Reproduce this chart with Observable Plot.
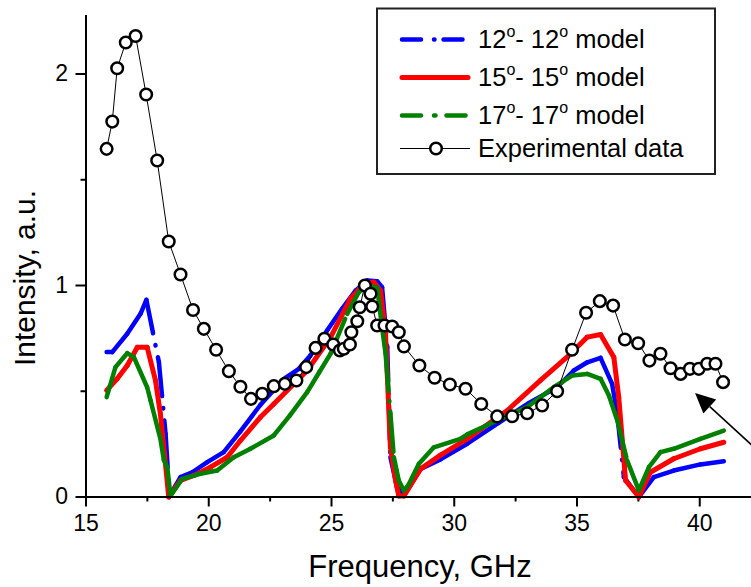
<!DOCTYPE html>
<html><head><meta charset="utf-8">
<script src="https://cdn.jsdelivr.net/npm/d3@7"></script>
<script src="https://cdn.jsdelivr.net/npm/@observablehq/plot@0.6"></script>
<style>
body{margin:0;background:#fff}
#chart{position:relative;width:751px;height:587px;overflow:hidden}
</style>
</head><body><div id="chart"></div>
<script>
// ---- data ----
const xMajorTicks = [15, 20, 25, 30, 35, 40];
const xMinorTicks = [17.5, 22.5, 27.5, 32.5, 37.5];
const yMajorTicks = [0, 1, 2];
const yMinorTicks = [0.5, 1.5];

const expFreq = [15.84,16.07,16.27,16.62,17.02,17.45,17.9,18.37,18.85,19.36,19.8,20.3,20.82,21.29,21.72,22.18,22.65,23.1,23.57,23.97,24.35,24.71,25.07,25.34,25.5,25.75,25.81,26.05,26.15,26.36,26.59,26.66,26.86,27.16,27.47,27.74,27.95,28.58,29.2,29.82,30.46,31.1,31.75,32.36,32.97,33.58,34.19,34.8,35.37,35.93,36.47,36.95,37.49,37.95,38.4,38.81,39.22,39.6,39.96,40.3,40.64,40.95];
const expInt = [1.646,1.775,2.027,2.149,2.18,1.903,1.591,1.208,1.052,0.884,0.795,0.696,0.595,0.521,0.464,0.488,0.524,0.535,0.551,0.614,0.705,0.748,0.721,0.693,0.701,0.721,0.779,0.831,0.897,1.0,0.961,0.901,0.811,0.811,0.806,0.779,0.712,0.622,0.564,0.532,0.512,0.44,0.381,0.382,0.396,0.433,0.5,0.696,0.871,0.926,0.905,0.745,0.727,0.645,0.677,0.609,0.582,0.606,0.606,0.63,0.63,0.543];

const m12Freq = [15.84,16.07,16.68,17.22,17.46,17.97,18.24,18.4,18.85,19.33,19.94,20.61,21.29,22.1,23.06,23.67,24.14,24.82,25.43,25.98,26.45,26.86,27.06,27.27,27.4,27.67,27.95,28.63,29.44,30.53,31.75,32.97,34.19,34.87,35.42,35.96,36.43,36.64,36.91,37.52,38.13,38.94,40.03,40.98];
const m12Int = [0.685,0.685,0.772,0.866,0.932,0.637,0.299,0.005,0.094,0.117,0.165,0.212,0.31,0.435,0.559,0.606,0.669,0.787,0.89,0.976,1.024,1.02,0.992,0.708,0.188,0.046,0.007,0.133,0.178,0.252,0.346,0.44,0.519,0.598,0.637,0.658,0.535,0.393,0.094,0.0,0.094,0.125,0.154,0.169];

const m15Freq = [15.84,16.27,16.68,17.09,17.49,17.83,18.03,18.2,18.37,18.85,19.39,20.07,20.75,21.29,22.1,22.65,24.01,24.96,25.77,26.32,26.72,27.0,27.2,27.4,27.61,27.74,27.95,28.63,29.44,30.53,32.16,33.51,34.74,35.42,35.96,36.5,36.7,36.98,37.52,37.99,38.94,40.03,40.98];
const m15Int = [0.504,0.559,0.622,0.708,0.708,0.551,0.393,0.2,0.0,0.078,0.102,0.141,0.188,0.267,0.377,0.44,0.598,0.755,0.937,1.008,1.016,0.976,0.772,0.235,0.078,0.005,0.005,0.133,0.198,0.275,0.409,0.551,0.677,0.756,0.768,0.661,0.472,0.078,0.0,0.117,0.181,0.228,0.259];

const m17Freq = [15.84,16.2,16.68,16.95,17.49,17.63,18.03,18.17,18.31,18.44,18.51,18.92,19.66,20.34,21.02,21.7,22.65,23.3,24.01,24.5,24.96,25.64,26.11,26.45,26.86,27.06,27.2,27.4,27.54,27.74,27.95,28.15,28.56,29.17,30.25,30.53,31.75,32.97,34.05,34.8,35.42,35.96,36.3,36.64,37.04,37.52,37.93,38.4,38.94,40.03,40.98];
const m17Int = [0.472,0.614,0.68,0.661,0.519,0.456,0.275,0.175,0.141,0.007,0.017,0.086,0.11,0.125,0.188,0.228,0.291,0.385,0.496,0.59,0.677,0.866,0.968,1.0,0.99,0.8,0.68,0.393,0.188,0.078,0.03,0.06,0.157,0.235,0.275,0.296,0.362,0.425,0.519,0.574,0.582,0.559,0.48,0.362,0.173,0.031,0.141,0.212,0.228,0.275,0.314];

const seriesNames = ["12", "15", "17"];
const seriesColors = ["#0000ff", "#ff0000", "#008000"];
const seriesDash = ["34,12,0.5,12", null, "38,10,0.5,10"];
const legendDash = ["19,13,0.5,9", null, "19,13,1.5,11"];
const expLabel = "Experimental data";
const xLabel = "Frequency, GHz";
const yLabel = "Intensity, a.u.";
const arrowFrom = [42.4, 0.215];
const arrowTo = [39.83, 0.489];

// ---- build tables ----
const exp = expFreq.map((f, i) => ({f, v: expInt[i]}));
function segs(fs, vs) {
  return fs.slice(1).map((f, i) => ({x1: fs[i], y1: vs[i], x2: f, y2: vs[i + 1]}));
}
const modelSegs = [segs(m12Freq, m12Int), segs(m15Freq, m15Int), segs(m17Freq, m17Int)];

const font = "'Liberation Sans', Arial, sans-serif";

const modelMarks = modelSegs.map((s, k) => Plot.link(s, {
  x1: "x1", y1: "y1", x2: "x2", y2: "y2",
  stroke: seriesColors[k], strokeWidth: k === 1 ? 5 : 4.5,
  strokeDasharray: seriesDash[k] || undefined,
  strokeLinecap: "round"
}));

const chart = Plot.plot({
  width: 751, height: 587,
  marginLeft: 85.5, marginRight: 0, marginTop: 15, marginBottom: 90.5,
  style: {fontFamily: font, background: "white", color: "black", overflow: "visible"},
  x: {domain: [15, 42.108]},
  y: {domain: [0, 2.2766]},
  marks: [
    Plot.axisX({ticks: xMajorTicks, tickSize: 10, tickPadding: 8, tickFormat: d => String(d), label: null, strokeWidth: 2, fontSize: 23}),
    Plot.axisX({ticks: xMinorTicks, tickSize: 5, tickFormat: () => "", label: null, strokeWidth: 2}),
    Plot.axisY({ticks: yMajorTicks, tickSize: 10, tickPadding: 8, tickFormat: d => String(d), label: null, strokeWidth: 2, fontSize: 23}),
    Plot.axisY({ticks: yMinorTicks, tickSize: 5, tickFormat: () => "", label: null, strokeWidth: 2}),
    ...modelMarks,
    Plot.line(exp, {x: "f", y: "v", stroke: "black", strokeWidth: 1}),
    Plot.dot(exp, {x: "f", y: "v", r: 5.8, fill: "white", stroke: "black", strokeWidth: 2.5}),
    Plot.ruleX([15], {strokeWidth: 2}),
    Plot.ruleY([0], {strokeWidth: 2})
  ]
});

document.getElementById("chart").appendChild(chart);
const svg = d3.select(chart);
const sx = chart.scale("x"), sy = chart.scale("y");

// annotation arrow (through the plot's scales)
{
  const x1 = sx.apply(arrowFrom[0]), y1 = sy.apply(arrowFrom[1]);
  const x2 = sx.apply(arrowTo[0]), y2 = sy.apply(arrowTo[1]);
  const ang = Math.atan2(y2 - y1, x2 - x1);
  const L = 20, W = 9.5;
  const bx = x2 - L * Math.cos(ang), by = y2 - L * Math.sin(ang);
  const px = -Math.sin(ang) * W, py = Math.cos(ang) * W;
  svg.append("line").attr("x1", x1).attr("y1", y1).attr("x2", bx).attr("y2", by)
    .attr("stroke", "black").attr("stroke-width", 1.6);
  svg.append("path").attr("d", `M${x2},${y2}L${bx + px},${by + py}L${bx - px},${by - py}Z`).attr("fill", "black");
}

// axis titles
svg.append("text").attr("x", 420).attr("y", 577).attr("text-anchor", "middle")
  .attr("font-family", font).attr("font-size", 31).attr("fill", "black").text(xLabel);
svg.append("text").attr("transform", "translate(35,278) rotate(-90)").attr("text-anchor", "middle")
  .attr("font-family", font).attr("font-size", 30).attr("fill", "black").text(yLabel);

// legend
const lg = svg.append("g").attr("font-family", font).attr("font-size", 25.5).attr("text-anchor", "start");
lg.append("rect").attr("x", 377).attr("y", 8.5).attr("width", 338).attr("height", 165.5)
  .attr("fill", "white").attr("stroke", "#222").attr("stroke-width", 2);
const rowY = [39.5, 77.5, 115.5, 148.5];
seriesNames.forEach((n, k) => {
  const y = rowY[k];
  const ln = lg.append("line").attr("x1", 402).attr("x2", 468).attr("y1", y).attr("y2", y)
    .attr("stroke", seriesColors[k]).attr("stroke-width", k === 1 ? 5 : 4.5).attr("stroke-linecap", "round");
  if (legendDash[k]) ln.attr("stroke-dasharray", legendDash[k]);
  const t = lg.append("text").attr("x", 478).attr("y", y + 8.5).attr("fill", "black").attr("text-anchor", "start");
  t.append("tspan").text(n);
  t.append("tspan").attr("font-size", 16).attr("dy", -11).text("o");
  t.append("tspan").attr("dy", 11).text("- " + n);
  t.append("tspan").attr("font-size", 16).attr("dy", -11).text("o");
  t.append("tspan").attr("dy", 11).text(" model");
});
{
  const y = rowY[3];
  lg.append("line").attr("x1", 400).attr("x2", 470).attr("y1", y).attr("y2", y).attr("stroke", "black").attr("stroke-width", 1);
  lg.append("circle").attr("cx", 436).attr("cy", y).attr("r", 5.8).attr("fill", "white").attr("stroke", "black").attr("stroke-width", 2.5);
  lg.append("text").attr("x", 478).attr("y", y + 8.5).attr("fill", "black").attr("text-anchor", "start").text(expLabel);
}
</script></body></html>
